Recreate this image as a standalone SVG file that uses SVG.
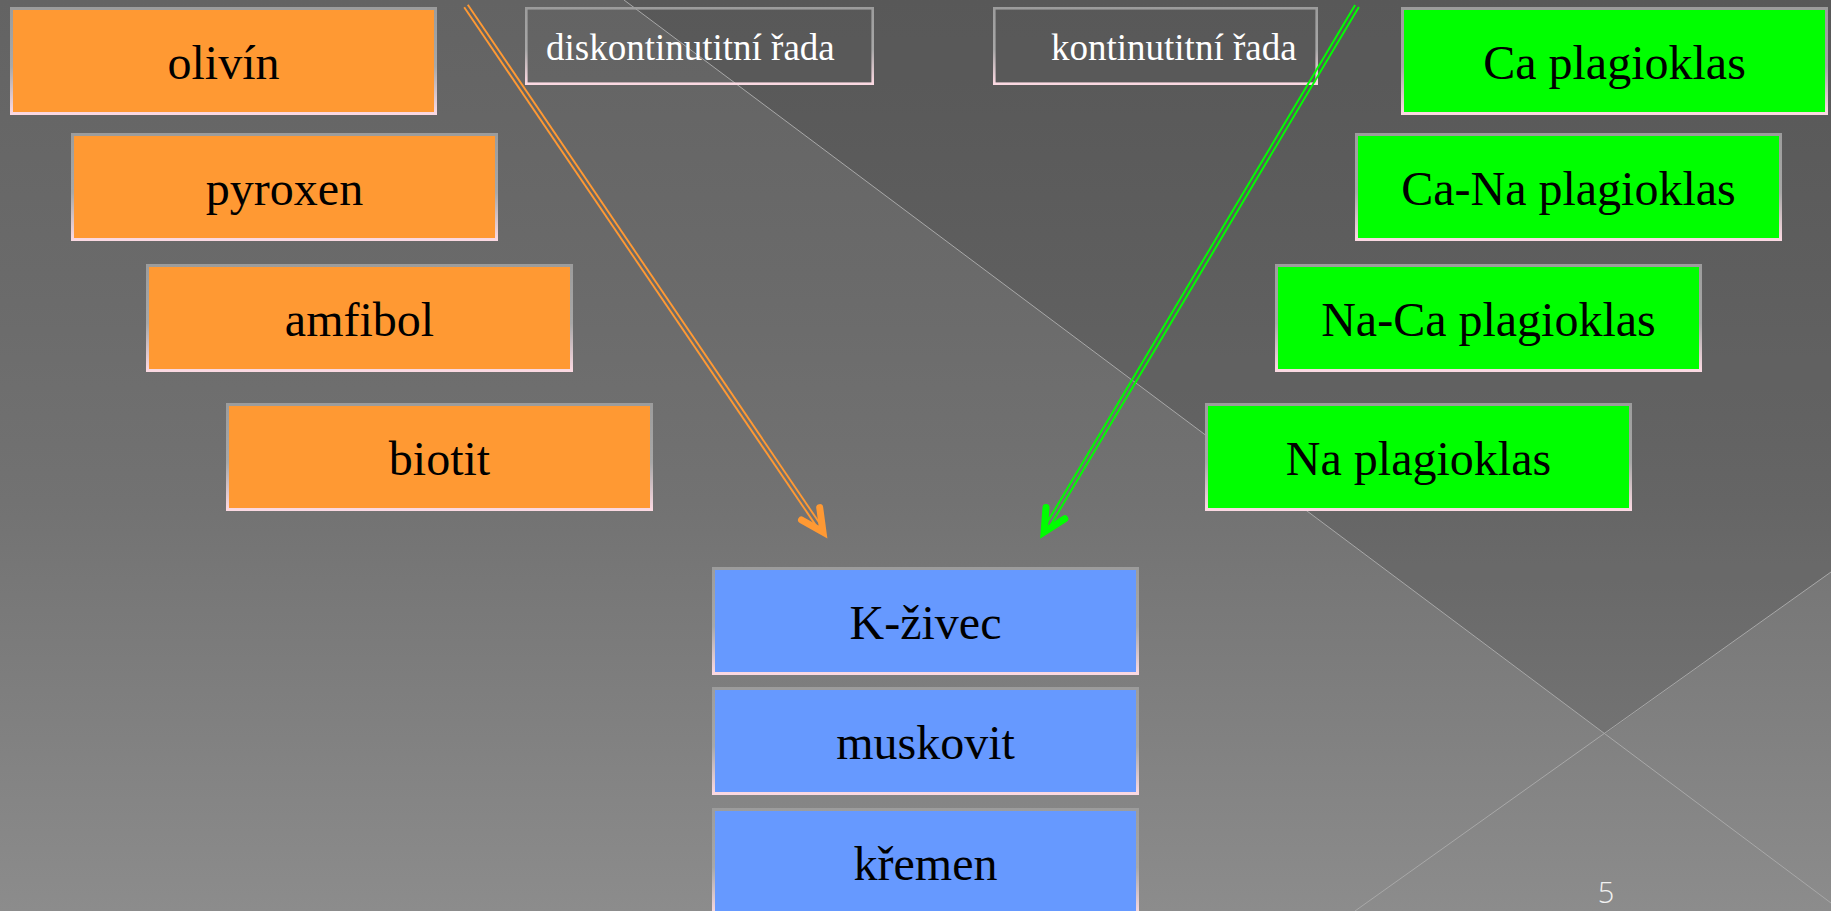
<svg xmlns="http://www.w3.org/2000/svg" width="1831" height="911" viewBox="0 0 1831 911">
<defs>
<linearGradient id="bg" x1="0" y1="0" x2="0" y2="1">
<stop offset="0" stop-color="#636363"/>
<stop offset="0.3" stop-color="#6a6a6a"/>
<stop offset="0.55" stop-color="#727272"/>
<stop offset="1" stop-color="#8c8c8c"/>
</linearGradient>
<linearGradient id="bord" x1="0" y1="0" x2="0" y2="1">
<stop offset="0" stop-color="#9c9c9c"/>
<stop offset="0.55" stop-color="#a8a8a8"/>
<stop offset="1" stop-color="#fbd9e2"/>
</linearGradient>
<style>
.box{stroke:url(#bord);stroke-width:3}
.or{fill:#ff9933}
.gr{fill:#00ff00}
.bl{fill:#6699ff}
.lab{fill:none;stroke:url(#bord);stroke-width:2.6}
.t{font-family:"Liberation Serif","Times New Roman",serif;font-size:48px;fill:#000;text-anchor:middle}
.lt{font-family:"Liberation Serif","Times New Roman",serif;font-size:37px;fill:#ffffff}
.deco{stroke:#a8a8a8;stroke-width:1;fill:none}
.rail{fill:none;stroke-width:1.9}
.head{fill:none;stroke-width:7;stroke-linecap:round;stroke-linejoin:miter;stroke-miterlimit:10}
.orS{stroke:#ff9933}
.grS{stroke:#00ff00}
.pg{font-family:"Open Sans","Liberation Sans",sans-serif;font-weight:300;font-size:29px;fill:#f2f2f2;text-anchor:middle}
</style>
</defs>
<g id="background">
<rect x="0" y="0" width="1831" height="911" fill="url(#bg)"/>
<polygon points="624,0 1831,0 1831,572 1605,734" fill="#000" fill-opacity="0.11"/>
<line class="deco" x1="624" y1="0" x2="1831" y2="903"/>
<line class="deco" x1="1355" y1="911" x2="1831" y2="572"/>
<text class="pg" x="1606" y="903">5</text>
</g>
<g id="label-diskontinualni">
<rect class="lab" x="526.3" y="8.3" width="346.4" height="75.4"/>
<text class="lt" x="546" y="60">diskontinutitní řada</text>
</g>
<g id="label-kontinualni">
<rect class="lab" x="994.3" y="8.3" width="322.4" height="75.4"/>
<text class="lt" x="1051" y="60">kontinutitní řada</text>
</g>
<g id="olivin">
<rect class="box or" x="11.5" y="8.5" width="424" height="105"/>
<text class="t" x="223.5" y="79">olivín</text>
</g>
<g id="pyroxen">
<rect class="box or" x="72.5" y="134.5" width="424" height="105"/>
<text class="t" x="284.5" y="205">pyroxen</text>
</g>
<g id="amfibol">
<rect class="box or" x="147.5" y="265.5" width="424" height="105"/>
<text class="t" x="359.5" y="336">amfibol</text>
</g>
<g id="biotit">
<rect class="box or" x="227.5" y="404.5" width="424" height="105"/>
<text class="t" x="439.5" y="475">biotit</text>
</g>
<g id="ca-plagioklas">
<rect class="box gr" x="1402.5" y="8.5" width="424" height="105"/>
<text class="t" x="1614.5" y="79">Ca plagioklas</text>
</g>
<g id="ca-na-plagioklas">
<rect class="box gr" x="1356.5" y="134.5" width="424" height="105"/>
<text class="t" x="1568.5" y="205">Ca-Na plagioklas</text>
</g>
<g id="na-ca-plagioklas">
<rect class="box gr" x="1276.5" y="265.5" width="424" height="105"/>
<text class="t" x="1488.5" y="336">Na-Ca plagioklas</text>
</g>
<g id="na-plagioklas">
<rect class="box gr" x="1206.5" y="404.5" width="424" height="105"/>
<text class="t" x="1418.5" y="475">Na plagioklas</text>
</g>
<g id="k-zivec">
<rect class="box bl" x="713.5" y="568.5" width="424" height="105"/>
<text class="t" x="925.5" y="639">K-živec</text>
</g>
<g id="muskovit">
<rect class="box bl" x="713.5" y="688.5" width="424" height="105"/>
<text class="t" x="925.5" y="759">muskovit</text>
</g>
<g id="kremen">
<rect class="box bl" x="713.5" y="809.5" width="424" height="105"/>
<text class="t" x="925.5" y="880">křemen</text>
</g>
<g id="connectors">
<g id="arrow-orange">
<line class="rail orS" x1="467.8" y1="4.8" x2="822.5" y2="527.5"/>
<line class="rail orS" x1="464.2" y1="7.2" x2="818.9" y2="529.9"/>
<path class="head orS" d="M801.5,520 L823,532 L819.7,507.6"/>
</g>
<g id="arrow-green">
<line class="rail grS" x1="1358.9" y1="7.1" x2="1047.9" y2="529.7"/>
<line class="rail grS" x1="1355.1" y1="4.9" x2="1044.1" y2="527.5"/>
<path class="head grS" d="M1064.8,518.8 L1044.1,532.1 L1046,507.6"/>
</g>
</g>
</svg>
